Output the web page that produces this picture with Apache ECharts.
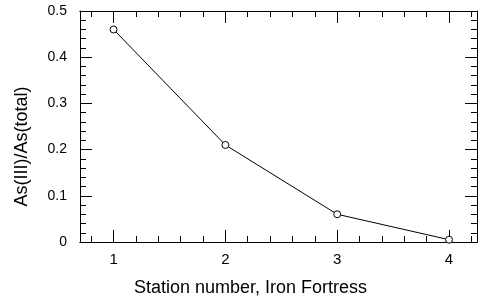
<!DOCTYPE html>
<html>
<head>
<meta charset="utf-8">
<script src="https://cdn.jsdelivr.net/npm/echarts@6/dist/echarts.min.js"></script>
<style>
  html, body { margin: 0; padding: 0; background: #fff; }
  #chart { width: 483px; height: 303px; }
</style>
</head>
<body>
<div id="chart"></div>
<script>
// data
const stations = [1, 2, 3, 4]
const ratio = [0.46, 0.21, 0.06, 0.005]
const xMajorTicks = [1, 2, 3, 4]
const xMinorTicks = [0.8, 1.2, 1.4, 1.6, 1.8, 2.2, 2.4, 2.6, 2.8, 3.2, 3.4, 3.6, 3.8, 4.2]

const font = 'Liberation Sans, Arial, sans-serif'
const black = '#000'

// one x axis; bottom ones carry the labels, top ones only mirror the ticks
function xAxis (position, values, len, labels, name) {
  return {
    type: 'value',
    position: position,
    min: 0.7,
    max: 4.25,
    name: name || '',
    nameLocation: 'middle',
    nameGap: 37,
    nameTextStyle: { fontFamily: font, fontSize: 18, color: black, padding: [0, 56, 0, 0] },
    axisLine: { show: true, onZero: false, lineStyle: { color: black, width: 1 } },
    axisTick: { show: true, inside: true, length: len, customValues: values, lineStyle: { color: black } },
    axisLabel: { show: labels, customValues: values, margin: 10, fontFamily: font, fontSize: 15, color: black },
    splitLine: { show: false }
  }
}

function yAxis (position, labels, name) {
  return {
    type: 'value',
    position: position,
    min: 0,
    max: 0.5,
    interval: 0.1,
    name: name || '',
    nameLocation: 'middle',
    nameGap: 49,
    nameTextStyle: { fontFamily: font, fontSize: 18, color: black, padding: [0, 40, 0, 0] },
    axisLine: { show: true, onZero: false, lineStyle: { color: black, width: 1 } },
    axisTick: { show: true, inside: true, length: 12, lineStyle: { color: black } },
    minorTick: { show: true, splitNumber: 5, length: 6, lineStyle: { color: black } },
    axisLabel: { show: labels, margin: 13, fontFamily: font, fontSize: 14, color: black,
      formatter: v => (v === 0 ? '0' : v.toFixed(1)) },
    splitLine: { show: false },
    minorSplitLine: { show: false }
  }
}

const chart = echarts.init(document.getElementById('chart'))
chart.setOption({
  animation: false,
  backgroundColor: '#fff',
  grid: { left: 80, right: 6, top: 11, bottom: 61, containLabel: false },
  xAxis: [
    xAxis('bottom', xMajorTicks, 12, true, 'Station number, Iron Fortress'),
    xAxis('bottom', xMinorTicks, 6, false),
    xAxis('top', xMajorTicks, 12, false),
    xAxis('top', xMinorTicks, 6, false)
  ],
  yAxis: [
    yAxis('left', true, 'As(III)/As(total)'),
    yAxis('right', false)
  ],
  series: [{
    type: 'line',
    data: stations.map((s, i) => [s, ratio[i]]),
    symbol: 'circle',
    symbolSize: 7,
    showSymbol: true,
    lineStyle: { color: black, width: 1 },
    itemStyle: { color: '#fff', borderColor: black, borderWidth: 1 },
    z: 3
  }]
})
</script>
</body>
</html>
